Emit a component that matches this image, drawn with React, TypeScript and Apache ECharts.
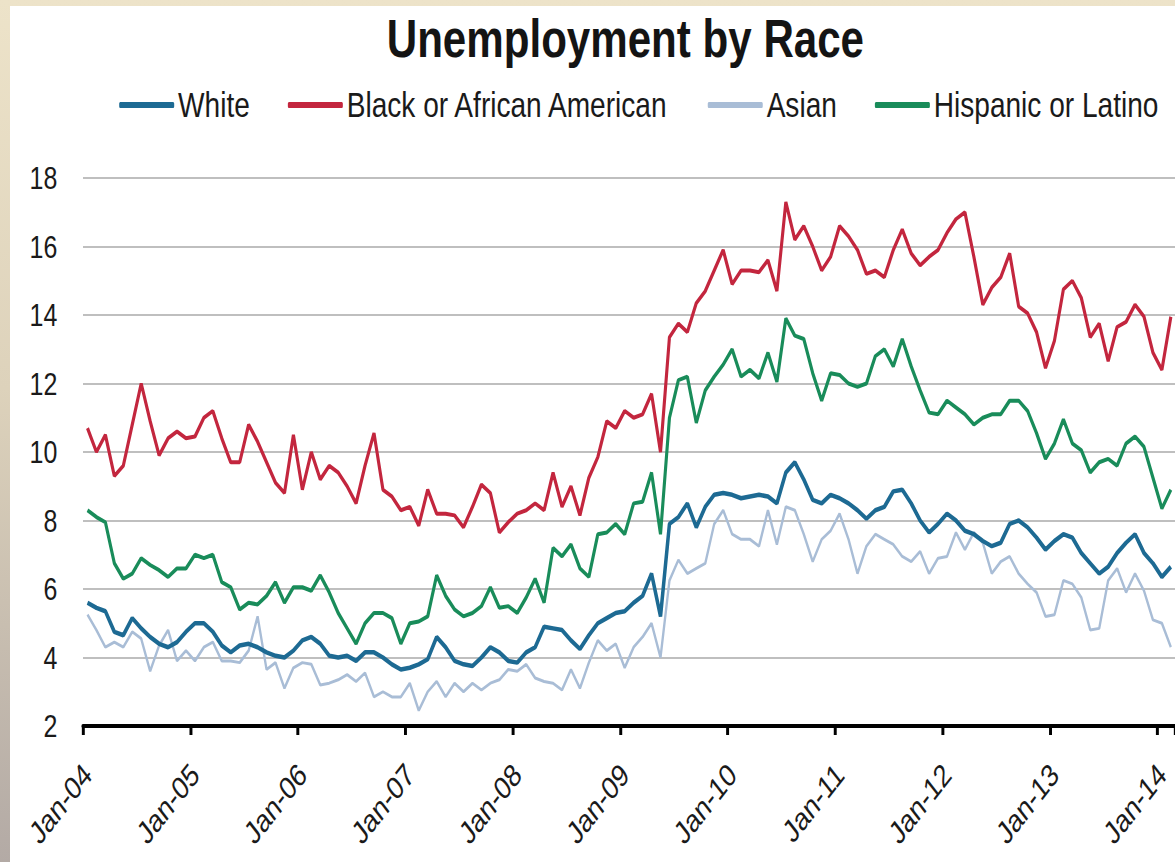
import React, { useEffect, useRef } from "react";
import * as echarts from "echarts";

const MONTHS = ["Jan", "Feb", "Mar", "Apr", "May", "Jun", "Jul", "Aug", "Sep", "Oct", "Nov", "Dec"];
const START_YEAR = 2004;
const N_MONTHS = 122;
const categories = Array.from({ length: N_MONTHS }, (_, i) =>
  `${MONTHS[i % 12]}-${String((START_YEAR + Math.floor(i / 12)) % 100).padStart(2, "0")}`
);

const seriesNames = ["White", "Black or African American", "Asian", "Hispanic or Latino"];

const white = [
  5.6, 5.45, 5.35, 4.75, 4.65, 5.15, 4.85, 4.6, 4.4, 4.3, 4.45, 4.75,
  5.0, 5.0, 4.75, 4.35, 4.15, 4.35, 4.4, 4.3, 4.15, 4.05, 4.0, 4.2,
  4.5, 4.6, 4.4, 4.05, 4.0, 4.05, 3.9, 4.15, 4.15, 4.0, 3.8, 3.65,
  3.7, 3.8, 3.95, 4.6, 4.3, 3.9, 3.8, 3.75, 4.0, 4.3, 4.15, 3.9,
  3.85, 4.15, 4.3, 4.9, 4.85, 4.8, 4.5, 4.25, 4.65, 5.0, 5.15, 5.3,
  5.35, 5.6, 5.8, 6.45, 5.2, 7.9, 8.1, 8.5, 7.8, 8.4, 8.75, 8.8,
  8.75, 8.65, 8.7, 8.75, 8.7, 8.5, 9.4, 9.7, 9.2, 8.6, 8.5, 8.75,
  8.65, 8.5, 8.3, 8.05, 8.3, 8.4, 8.85, 8.9, 8.5, 8.0, 7.65, 7.9,
  8.2, 8.0, 7.7, 7.6, 7.4, 7.25, 7.35, 7.9, 8.0, 7.8, 7.5, 7.15,
  7.4, 7.6, 7.5, 7.05, 6.75, 6.45, 6.65, 7.05, 7.35, 7.6, 7.05, 6.75,
  6.35, 6.65,
];

const black = [
  10.7, 10.0, 10.5, 9.3, 9.6, 10.8, 12.0, 10.9, 9.9, 10.4, 10.6, 10.4,
  10.45, 11.0, 11.2, 10.4, 9.7, 9.7, 10.8, 10.3, 9.7, 9.1, 8.8, 10.5,
  8.9, 10.0, 9.2, 9.6, 9.4, 9.0, 8.5, 9.6, 10.55, 8.9, 8.7, 8.3,
  8.4, 7.85, 8.9, 8.2, 8.2, 8.15, 7.8, 8.4, 9.05, 8.8, 7.65, 7.95,
  8.2, 8.3, 8.5, 8.3, 9.4, 8.4, 9.0, 8.15, 9.25, 9.85, 10.9, 10.7,
  11.2, 11.0, 11.1, 11.7, 10.0, 13.35, 13.75, 13.5, 14.35, 14.7, 15.3, 15.9,
  14.9, 15.3, 15.3, 15.25, 15.6, 14.7, 17.3, 16.2, 16.6, 16.0, 15.3, 15.7,
  16.6, 16.3, 15.9, 15.2, 15.3, 15.1, 15.9, 16.5, 15.8, 15.45, 15.7, 15.9,
  16.4, 16.8, 17.0, 15.7, 14.3, 14.8, 15.1, 15.8, 14.25, 14.05, 13.5, 12.45,
  13.25, 14.75, 15.0, 14.5, 13.35, 13.75, 12.65, 13.65, 13.8, 14.3, 13.95, 12.9,
  12.4, 13.95,
];

const asian = [
  5.25, 4.8, 4.3, 4.45, 4.3, 4.75, 4.55, 3.6, 4.35, 4.8, 3.9, 4.2,
  3.9, 4.3, 4.45, 3.9, 3.9, 3.85, 4.2, 5.2, 3.65, 3.85, 3.1, 3.7,
  3.85, 3.8, 3.2, 3.25, 3.35, 3.5, 3.3, 3.55, 2.85, 3.0, 2.85, 2.85,
  3.25, 2.45, 3.0, 3.3, 2.85, 3.25, 3.0, 3.25, 3.05, 3.25, 3.35, 3.65,
  3.6, 3.8, 3.4, 3.3, 3.25, 3.05, 3.65, 3.1, 3.85, 4.5, 4.2, 4.4,
  3.7, 4.3, 4.6, 5.0, 4.0, 6.25, 6.85, 6.45, 6.6, 6.75, 7.9, 8.3,
  7.6, 7.45, 7.45, 7.25, 8.3, 7.3, 8.4, 8.3, 7.6, 6.8, 7.45, 7.7,
  8.2, 7.45, 6.45, 7.25, 7.6, 7.45, 7.3, 6.95, 6.8, 7.1, 6.45, 6.9,
  6.95, 7.65, 7.15, 7.65, 7.35, 6.45, 6.8, 6.95, 6.45, 6.15, 5.9, 5.2,
  5.25, 6.25, 6.15, 5.75, 4.8, 4.85, 6.25, 6.6, 5.9, 6.45, 5.95, 5.1,
  5.0, 4.3,
];

const hispanic = [
  8.3, 8.1, 7.95, 6.75, 6.3, 6.45, 6.9, 6.7, 6.55, 6.35, 6.6, 6.6,
  7.0, 6.9, 7.0, 6.2, 6.05, 5.4, 5.6, 5.55, 5.8, 6.2, 5.6, 6.05,
  6.05, 5.95, 6.4, 5.9, 5.3, 4.85, 4.4, 5.0, 5.3, 5.3, 5.15, 4.4,
  5.0, 5.05, 5.2, 6.4, 5.8, 5.4, 5.2, 5.3, 5.5, 6.05, 5.45, 5.5,
  5.3, 5.75, 6.3, 5.6, 7.2, 6.95, 7.3, 6.6, 6.35, 7.6, 7.65, 7.9,
  7.6, 8.5, 8.55, 9.4, 7.6, 11.0, 12.1, 12.2, 10.85, 11.8, 12.2, 12.55,
  13.0, 12.2, 12.4, 12.15, 12.9, 12.05, 13.9, 13.4, 13.3, 12.3, 11.5, 12.3,
  12.25, 12.0, 11.9, 12.0, 12.8, 13.0, 12.5, 13.3, 12.5, 11.8, 11.15, 11.1,
  11.5, 11.3, 11.1, 10.8, 11.0, 11.1, 11.1, 11.5, 11.5, 11.2, 10.55, 9.8,
  10.25, 10.95, 10.25, 10.05, 9.4, 9.7, 9.8, 9.6, 10.25, 10.45, 10.15, 9.25,
  8.35, 8.9,
];

const Y_MIN = 2;
const Y_MAX = 18;
const Y_STEP = 2;

const COLORS = {
  white: "#1d6a93",
  black: "#c3263e",
  asian: "#a9bdd6",
  hispanic: "#198c5a",
};

const FONT = "'Liberation Sans', Arial, sans-serif";

// The reference picture is horizontally compressed; the chart is drawn wider and squeezed.
const SQUEEZE = 0.78;
const CHART_W = 1494;
const CHART_H = 856;

export default function App() {
  const ref = useRef<HTMLDivElement>(null);

  useEffect(() => {
    if (!ref.current) return;
    const chart = echarts.init(ref.current, null, { renderer: "svg" });
    chart.setOption({
      animation: false,
      backgroundColor: "#ffffff",
      textStyle: { fontFamily: FONT },
      title: {
        text: "Unemployment by Race",
        left: 478,
        top: 0,
        textStyle: { fontFamily: FONT, fontSize: 54, fontWeight: "bold", color: "#141414" },
      },
      legend: {
        data: seriesNames,
        left: 135,
        top: 76,
        icon: "roundRect",
        itemWidth: 70.5,
        itemHeight: 6,
        itemGap: 48.7,
        textStyle: { fontFamily: FONT, fontSize: 36, color: "#1a1a1a" },
      },
      grid: { left: 93.6, right: 0, top: 172, bottom: 136, containLabel: false },
      xAxis: {
        type: "category",
        data: categories,
        boundaryGap: true,
        axisLine: { show: true, lineStyle: { color: "#000", width: 4 } },
        axisTick: { show: true, interval: 11, length: 9, lineStyle: { color: "#000", width: 3.8 } },
        axisLabel: {
          interval: 11,
          rotate: 45,
          align: "right",
          verticalAlign: "middle",
          margin: 43,
          fontSize: 32,
          fontFamily: FONT,
          color: "#1a1a1a",
        },
        splitLine: { show: false },
      },
      yAxis: {
        type: "value",
        min: Y_MIN,
        max: Y_MAX,
        interval: Y_STEP,
        axisLine: { show: false },
        axisTick: { show: false },
        axisLabel: { fontSize: 32, fontFamily: FONT, color: "#1a1a1a", margin: 33 },
        splitLine: { show: true, lineStyle: { color: "#bfbfbf", width: 2.2 } },
      },
      series: [
        {
          name: "Asian",
          type: "line",
          data: asian,
          showSymbol: false,
          color: COLORS.asian,
          lineStyle: { width: 3, color: COLORS.asian },
        },
        {
          name: "Hispanic or Latino",
          type: "line",
          data: hispanic,
          showSymbol: false,
          color: COLORS.hispanic,
          lineStyle: { width: 4, color: COLORS.hispanic },
        },
        {
          name: "Black or African American",
          type: "line",
          data: black,
          showSymbol: false,
          color: COLORS.black,
          lineStyle: { width: 4, color: COLORS.black },
        },
        {
          name: "White",
          type: "line",
          data: white,
          showSymbol: false,
          color: COLORS.white,
          lineStyle: { width: 4.5, color: COLORS.white },
        },
      ],
    });
    return () => chart.dispose();
  }, []);

  return (
    <div
      style={{
        position: "absolute",
        left: 0,
        top: 0,
        width: 1175,
        height: 862,
        overflow: "hidden",
        background: "linear-gradient(to bottom, #ede3c9 0%, #ddd2bb 45%, #b3aaa5 100%)",
      }}
    >
      <div
        ref={ref}
        style={{
          position: "absolute",
          left: 10,
          top: 6,
          width: CHART_W,
          height: CHART_H,
          background: "#fff",
          transform: `scaleX(${SQUEEZE})`,
          transformOrigin: "0 0",
        }}
      />
    </div>
  );
}
